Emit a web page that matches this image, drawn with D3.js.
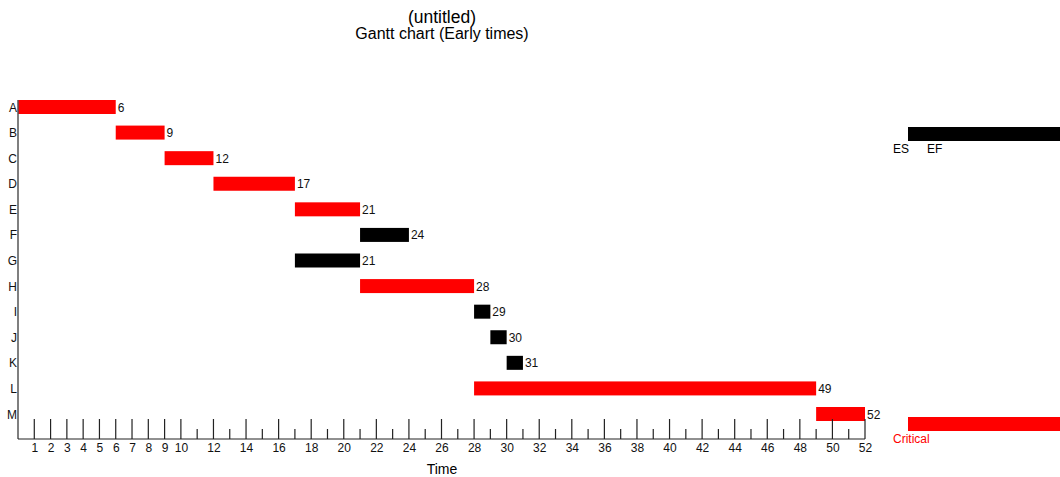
<!DOCTYPE html>
<html>
<head>
<meta charset="utf-8">
<script src="https://cdn.jsdelivr.net/npm/d3@7"></script>
<style>
  body { margin: 0; background: #fff; }
  svg { font-family: "Liberation Sans", Arial, sans-serif; }
</style>
</head>
<body>
<div id="chart"></div>
<script>
// task data
const tasks = ["A", "B", "C", "D", "E", "F", "G", "H", "I", "J", "K", "L", "M"];
const earlyStart = [0, 6, 9, 12, 17, 21, 17, 21, 28, 29, 30, 28, 49];
const earlyFinish = [6, 9, 12, 17, 21, 24, 21, 28, 29, 30, 31, 49, 52];
const critical = [true, true, true, true, true, false, false, true, false, false, false, true, true];
const majorTicks = [1, 2, 3, 4, 5, 6, 7, 8, 9, 10, 12, 14, 16, 18, 20, 22, 24, 26, 28, 30, 32, 34, 36, 38, 40, 42, 44, 46, 48, 50, 52];
const minorTicks = [11, 13, 15, 17, 19, 21, 23, 25, 27, 29, 31, 33, 35, 37, 39, 41, 43, 45, 47, 49, 51];

const data = tasks.map((t, i) => ({ task: t, es: earlyStart[i], ef: earlyFinish[i], crit: critical[i] }));

const width = 1060, height = 477;
const axisY = 439;
const barH = 14;

const svg = d3.select("#chart").append("svg")
    .attr("width", width)
    .attr("height", height);

const x = d3.scaleLinear().domain([0, 52]).range([18, 865]);
const y = d3.scalePoint().domain(tasks).range([107, 414]);

// titles
svg.append("text")
    .attr("x", 442).attr("y", 23)
    .attr("text-anchor", "middle")
    .style("font-size", "17.5px")
    .text("(untitled)");
svg.append("text")
    .attr("x", 442).attr("y", 39)
    .attr("text-anchor", "middle")
    .style("font-size", "16px")
    .text("Gantt chart (Early times)");

// bars
svg.selectAll(".bar")
    .data(data)
    .enter().append("rect")
    .attr("class", "bar")
    .attr("x", d => x(d.es))
    .attr("y", d => y(d.task) - barH / 2)
    .attr("width", d => x(d.ef) - x(d.es))
    .attr("height", barH)
    .style("fill", d => d.crit ? "#ff0000" : "#000");

// finish labels
svg.selectAll(".bar-text")
    .data(data)
    .enter().append("text")
    .attr("x", d => x(d.ef) + 2)
    .attr("y", d => y(d.task) + 4.5)
    .style("font-size", "12px")
    .style("fill", "#111")
    .text(d => d.ef);

// y axis
svg.append("line")
    .attr("x1", x(0)).attr("x2", x(0))
    .attr("y1", y("A") - barH / 2).attr("y2", axisY)
    .style("stroke", "#555").style("stroke-width", 1.5);
svg.selectAll(".ylab")
    .data(tasks)
    .enter().append("text")
    .attr("x", 17)
    .attr("y", d => y(d) + 4.5)
    .attr("text-anchor", "end")
    .style("font-size", "12px")
    .style("fill", "#111")
    .text(d => d);

// x axis
svg.append("line")
    .attr("x1", x(0)).attr("x2", x(52))
    .attr("y1", axisY).attr("y2", axisY)
    .style("stroke", "#222").style("stroke-width", 1.2);
svg.selectAll(".major")
    .data(majorTicks)
    .enter().append("line")
    .attr("x1", d => x(d)).attr("x2", d => x(d))
    .attr("y1", axisY - 20).attr("y2", axisY)
    .style("stroke", "#222").style("stroke-width", 1.2);
svg.selectAll(".minor")
    .data(minorTicks)
    .enter().append("line")
    .attr("x1", d => x(d)).attr("x2", d => x(d))
    .attr("y1", axisY - 10).attr("y2", axisY)
    .style("stroke", "#222").style("stroke-width", 1.2);
svg.selectAll(".xlab")
    .data(majorTicks)
    .enter().append("text")
    .attr("x", d => x(d) + 0.5)
    .attr("y", axisY + 13)
    .attr("text-anchor", "middle")
    .style("font-size", "12px")
    .style("fill", "#111")
    .text(d => d);
svg.append("text")
    .attr("x", 442).attr("y", 474)
    .attr("text-anchor", "middle")
    .style("font-size", "14px")
    .text("Time");

// legend
svg.append("rect")
    .attr("x", 908).attr("y", 127)
    .attr("width", 160).attr("height", 14)
    .style("fill", "#000");
svg.append("text").attr("x", 893).attr("y", 153).style("font-size", "12px").text("ES");
svg.append("text").attr("x", 927).attr("y", 153).style("font-size", "12px").text("EF");
svg.append("rect")
    .attr("x", 908).attr("y", 417)
    .attr("width", 160).attr("height", 14)
    .style("fill", "#ff0000");
svg.append("text").attr("x", 893).attr("y", 443)
    .style("font-size", "12px").style("fill", "#ff0000").text("Critical");
</script>
</body>
</html>
